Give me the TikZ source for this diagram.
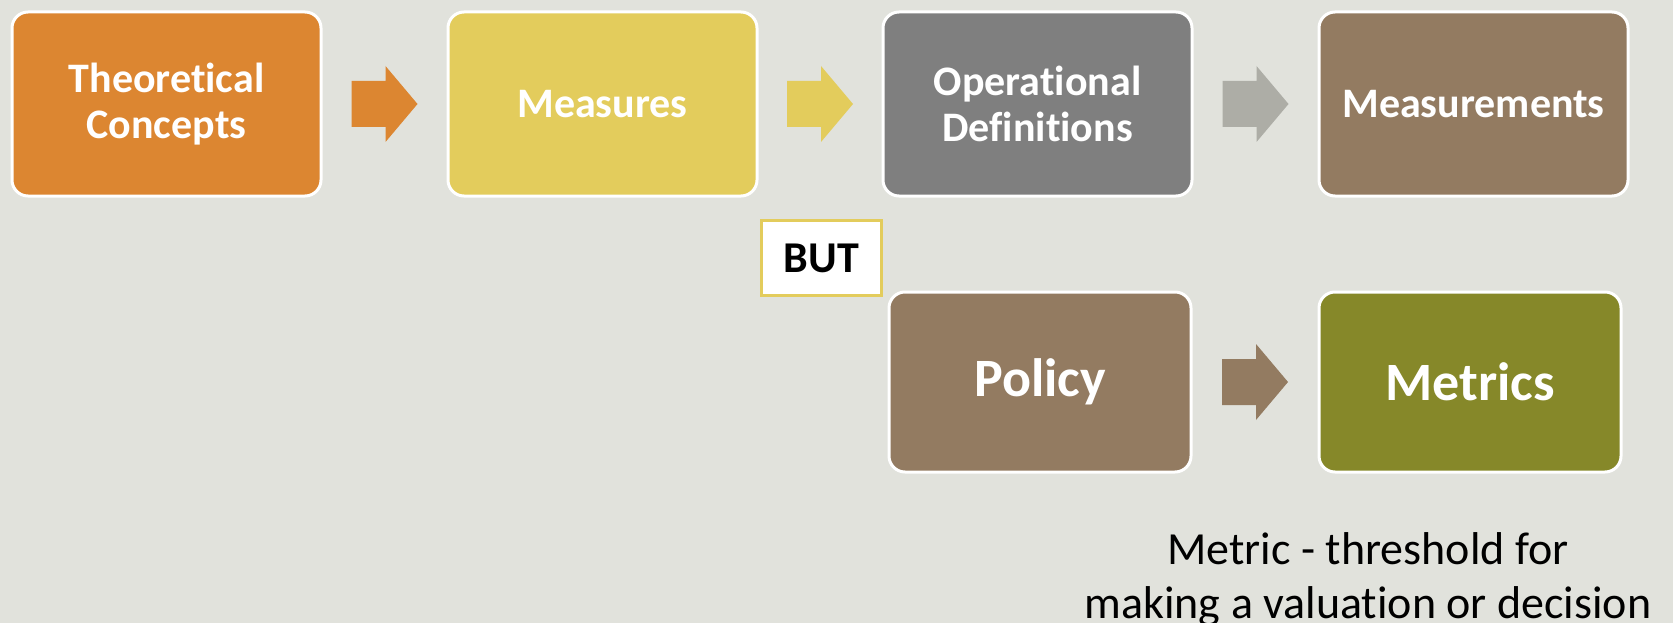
\documentclass[tikz,border=0pt]{standalone}
\usepackage{fontspec}
\setmainfont{Carlito}[Ligatures=NoCommon]
\usetikzlibrary{calc}

\definecolor{bgc}{HTML}{E1E2DC}
\definecolor{corange}{HTML}{DC8631}
\definecolor{cyellow}{HTML}{E3CC5C}
\definecolor{cgray}{HTML}{7F7F7F}
\definecolor{clightgray}{HTML}{ADADA6}
\definecolor{cbrown}{HTML}{937B61}
\definecolor{colive}{HTML}{868829}

\tikzset{
  card/.style={rounded corners=16pt, draw=white, line width=3pt,
    minimum width=309pt, minimum height=184pt, inner sep=0pt,
    align=center, text=white,
    font=\bfseries\fontsize{42}{46}\selectfont},
  bigcard/.style={card, minimum width=302pt, minimum height=180pt,
    font=\bfseries\fontsize{54}{60}\selectfont},
  notebox/.style={draw=cyellow, line width=3pt, fill=white,
    minimum width=120pt, minimum height=75pt, inner sep=0pt,
    font=\bfseries\fontsize{44}{48}\selectfont},
  blockarrow/.pic={
    \fill[pic actions] (-33,-23) -- (1,-23) -- (1,-38) -- (33,0)
      -- (1,38) -- (1,23) -- (-33,23) -- cycle;}
}

\begin{document}
\begin{tikzpicture}[x=1pt, y=-1pt]
  \fill[bgc] (0,0) rectangle (1673,623);
  \useasboundingbox (0,0) rectangle (1673,623);

  % top row
  \node[card, fill=corange] (tc) at (166.5,104) {Theoretical\\Concepts};
  \node[card, fill=cyellow] (ms) at (602.5,104) {Measures};
  \node[card, fill=cgray]   (od) at (1037.5,104) {Operational\\Definitions};
  \node[card, fill=cbrown]  (mt) at (1473.5,104) {Measurements};

  % bottom row
  \node[notebox] (but) at (821.5,258) {BUT};
  \node[bigcard, fill=cbrown] (po) at (1040,382) {Policy};
  \node[bigcard, fill=colive] (me) at (1470,382) {Metrics};

  % block arrows between the cards
  \pic[fill=corange]    at ($(tc.east)!0.5!(ms.west)$) {blockarrow};
  \pic[fill=cyellow]    at ($(ms.east)!0.5!(od.west)$) {blockarrow};
  \pic[fill=clightgray] at ($(od.east)!0.5!(mt.west)$) {blockarrow};
  \pic[fill=cbrown]     at ($(po.east)!0.5!(me.west)$) {blockarrow};

  % definition note (base anchor sits on the last line)
  \node[anchor=base, align=center, font=\fontsize{46}{54}\selectfont]
    (def) at (1368,618) {Metric - threshold for\\making a valuation or decision};
\end{tikzpicture}
\end{document}
